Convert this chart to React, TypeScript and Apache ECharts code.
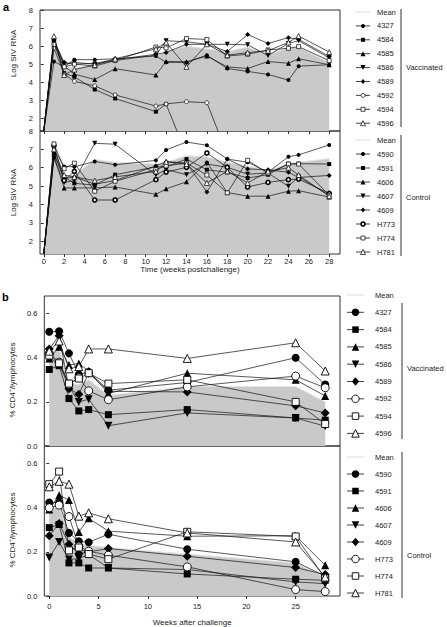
import React, { useEffect, useRef } from 'react';
import * as echarts from 'echarts';

// ---------- data ----------
const weeksA = [0, 1, 2, 3, 5, 7, 11, 12, 14, 16, 18, 20, 22, 24, 25, 28];
const weeksB = [0, 1, 2, 3, 4, 6, 14, 25, 28];
const ticksA = [0, 2, 4, 6, 8, 10, 12, 14, 16, 18, 20, 22, 24, 26, 28];
const ticksB = [0, 5, 10, 15, 20, 25];
const logTicks = [2, 3, 4, 5, 6, 7, 8];
const pctTicks = [0, 0.2, 0.4, 0.6];

const vacIds = ['4327', '4584', '4585', '4586', '4589', '4592', '4594', '4596'];
const conIds = ['4590', '4591', '4606', '4607', '4609', 'H773', 'H774', 'H781'];

// Panel a, vaccinated (log SIV RNA)
const meanVacA = [1.3, 6.2, 4.9, 4.8, 4.95, 5.2, 5.45, 5.7, 6.0, 5.85, 5.7, 5.95, 5.55, 5.9, 5.95, 5.1];
const a4327 = [1.3, 5.15, 4.85, 5.25, 5.25, 5.3, 5.45, 5.1, 5.1, 5.5, 4.76, 4.6, 4.43, 4.12, 4.89, 4.97];
const a4584 = [1.3, 6.3, 4.5, 4.3, 3.6, 3.1, 2.37, 2.79, 0, 0, 0, 0, 0, 0, 0, 0];
const a4585 = [1.3, 6.4, 4.9, 4.45, 4.15, 4.75, 4.4, 5.15, 5.13, 5.45, 4.85, 4.76, 5.15, 5.05, 5.3, 4.97];
const a4586 = [1.3, 6.25, 5.0, 5.1, 5.0, 5.2, 5.5, 6.3, 6.24, 6.1, 6.1, 6.07, 5.48, 6.15, 6.3, 5.35];
const a4589 = [1.3, 6.3, 5.1, 5.0, 5.05, 5.25, 5.55, 5.65, 6.1, 6.1, 5.7, 6.64, 6.15, 6.47, 6.37, 5.43];
const a4592 = [1.3, 5.9, 4.45, 4.05, 3.8, 3.3, 2.68, 2.8, 2.92, 2.87, 0, 0, 0, 0, 0, 0];
const a4594 = [1.3, 6.1, 4.85, 5.0, 4.9, 5.2, 5.95, 5.9, 6.42, 6.37, 5.45, 5.55, 5.79, 5.88, 5.97, 5.2];
const a4596 = [1.3, 6.55, 4.4, 4.7, 4.95, 5.3, 5.85, 6.2, 4.85, 6.1, 5.5, 5.64, 5.75, 6.2, 6.56, 5.67];

// Panel a, control (log SIV RNA)
const meanConA = [1.3, 7.0, 5.5, 5.6, 6.45, 6.3, 6.2, 6.3, 6.65, 6.6, 6.3, 6.1, 5.85, 6.2, 6.3, 6.5];
const a4590 = [1.3, 7.0, 6.07, 6.05, 6.34, 6.16, 6.4, 6.97, 7.4, 7.22, 6.47, 6.3, 5.75, 6.6, 6.7, 7.24];
const a4591 = [1.3, 6.8, 5.5, 5.15, 5.05, 5.62, 6.05, 6.05, 6.47, 5.89, 5.75, 5.44, 5.62, 6.22, 6.22, 6.2];
const a4606 = [1.3, 6.6, 4.9, 4.9, 4.9, 4.95, 4.55, 4.85, 5.23, 6.3, 4.65, 4.45, 4.45, 4.72, 4.75, 4.4];
const a4607 = [1.3, 6.5, 5.2, 5.3, 7.33, 7.28, 5.6, 5.9, 5.62, 6.2, 6.02, 5.65, 5.71, 4.99, 5.5, 4.5];
const a4609 = [1.3, 6.7, 5.4, 5.5, 5.1, 5.3, 6.1, 6.33, 6.25, 4.68, 6.47, 5.93, 5.89, 5.75, 5.47, 5.58];
const aH773 = [1.3, 7.2, 5.3, 5.8, 4.24, 4.24, 5.35, 5.76, 6.02, 6.8, 6.02, 4.95, 5.2, 5.35, 5.38, 4.6];
const aH774 = [1.3, 7.3, 5.95, 6.25, 4.72, 5.26, 5.9, 6.1, 6.25, 5.6, 4.63, 6.4, 5.7, 6.2, 6.2, 4.5];
const aH781 = [1.3, 7.0, 5.6, 5.5, 5.3, 5.5, 5.8, 6.33, 6.2, 5.17, 5.8, 5.17, 5.8, 6.0, 5.6, 4.45];

// Panel b, vaccinated (% CD4+/lymphocytes)
const meanVacB = [0.41, 0.44, 0.28, 0.28, 0.3, 0.23, 0.27, 0.27, 0.2];
const b4327 = [0.518, 0.52, 0.42, 0.324, 0.336, 0.253, 0.288, 0.4, 0.279];
const b4584 = [0.347, 0.364, 0.215, 0.159, 0.165, 0.142, 0.165, 0.127, 0.117];
const b4585 = [0.397, 0.45, 0.367, 0.374, 0.34, 0.238, 0.33, 0.3, 0.227];
const b4586 = [0.4, 0.37, 0.27, 0.2, 0.212, 0.092, 0.15, 0.127, 0.09];
const b4589 = [0.44, 0.5, 0.26, 0.235, 0.33, 0.248, 0.245, 0.182, 0.15];
const b4592 = [0.42, 0.38, 0.28, 0.31, 0.25, 0.21, 0.268, 0.317, 0.264];
const b4594 = [0.41, 0.375, 0.283, 0.306, 0.33, 0.283, 0.3, 0.2, 0.1];
const b4596 = [0.43, 0.476, 0.35, 0.36, 0.44, 0.44, 0.397, 0.468, 0.34];

// Panel b, control (% CD4+/lymphocytes)
const meanConB = [0.39, 0.41, 0.27, 0.235, 0.23, 0.22, 0.19, 0.15, 0.085];
const b4590 = [0.424, 0.424, 0.286, 0.248, 0.244, 0.28, 0.212, 0.155, 0.09];
const b4591 = [0.31, 0.324, 0.15, 0.15, 0.127, 0.127, 0.1, 0.076, 0.071];
const b4606 = [0.392, 0.457, 0.435, 0.29, 0.352, 0.294, 0.271, 0.273, 0.139];
const b4607 = [0.174, 0.245, 0.165, 0.17, 0.188, 0.127, 0.12, 0.064, 0.056];
const b4609 = [0.273, 0.329, 0.235, 0.192, 0.2, 0.215, 0.18, 0.129, 0.097];
const bH773 = [0.4, 0.412, 0.36, 0.226, 0.203, 0.185, 0.132, 0.029, 0.02];
const bH774 = [0.507, 0.564, 0.207, 0.22, 0.19, 0.167, 0.291, 0.27, 0.08];
const bH781 = [0.495, 0.52, 0.507, 0.362, 0.377, 0.35, 0.286, 0.245, 0.086];

const vacA = [a4327, a4584, a4585, a4586, a4589, a4592, a4594, a4596];
const conA = [a4590, a4591, a4606, a4607, a4609, aH773, aH774, aH781];
const vacB = [b4327, b4584, b4585, b4586, b4589, b4592, b4594, b4596];
const conB = [b4590, b4591, b4606, b4607, b4609, bH773, bH774, bH781];

// ---------- styling ----------
const KINDS = ['circle', 'rect', 'triangle', 'down', 'diamond', 'circle', 'rect', 'triangle'];
const FILLED = [true, true, true, true, true, false, false, false];
const FONT = '"Liberation Sans", Arial, Helvetica, sans-serif';
const INK = '#222';
const GRAY = '#c9c9c9';

function sizeFor(kind: string, big: boolean) {
  if (big) return kind === 'rect' ? 7 : kind === 'diamond' ? 9 : 8;
  return kind === 'rect' ? 4 : kind === 'circle' ? 4 : 5;
}

function animalSeries(name: string, weeks: number[], vals: number[], axis: number, idx: number, big: boolean, bold: boolean) {
  const kind = KINDS[idx];
  return {
    type: 'line',
    name,
    xAxisIndex: axis,
    yAxisIndex: axis,
    // in panel a the week-0 point is the undetectable baseline: drawn as line start only
    data: weeks.map((w, i) => (!big && w === 0 ? { value: [w, vals[i]], symbol: 'none' } : [w, vals[i]])),
    symbol: kind === 'down' ? 'triangle' : kind,
    symbolRotate: kind === 'down' ? 180 : 0,
    symbolSize: sizeFor(kind, big),
    showSymbol: true,
    showAllSymbol: true,
    clip: true,
    lineStyle: { color: '#111', width: 0.7 },
    itemStyle: {
      color: FILLED[idx] ? '#000' : '#fff',
      borderColor: '#000',
      borderWidth: FILLED[idx] ? 0 : bold ? 1.6 : big ? 0.9 : 0.7,
    },
    emphasis: { disabled: true },
    z: 3 + idx * 0.01,
  };
}

function meanSeries(weeks: number[], vals: number[], axis: number) {
  return {
    type: 'line',
    name: 'Mean',
    xAxisIndex: axis,
    yAxisIndex: axis,
    data: weeks.map((w, i) => [w, vals[i]]),
    symbol: 'none',
    lineStyle: { color: '#e4e4e4', width: 1 },
    areaStyle: { color: GRAY, opacity: 1, origin: 'start' },
    emphasis: { disabled: true },
    z: 1,
  };
}

function marker(kind: string, cx: number, cy: number, s: number, filled: boolean, lw: number) {
  const style = { fill: filled ? '#000' : '#fff', stroke: '#000', lineWidth: filled ? 0 : lw };
  const h = s / 2;
  if (kind === 'circle') return { type: 'circle', z: 10, shape: { cx, cy, r: h }, style };
  if (kind === 'rect') return { type: 'rect', z: 10, shape: { x: cx - h, y: cy - h, width: s, height: s }, style };
  let pts: number[][];
  if (kind === 'triangle') pts = [[cx, cy - h], [cx + h, cy + h], [cx - h, cy + h]];
  else if (kind === 'down') pts = [[cx, cy + h], [cx + h, cy - h], [cx - h, cy - h]];
  else pts = [[cx, cy - h], [cx + h * 0.85, cy], [cx, cy + h], [cx - h * 0.85, cy]];
  return { type: 'polygon', z: 10, shape: { points: pts }, style };
}

function txt(text: string, x: number, y: number, size: number, extra: any = {}) {
  return {
    type: 'text',
    x,
    y,
    z: 10,
    style: { text, fill: INK, fontSize: size, fontFamily: FONT, align: 'left', verticalAlign: 'middle', ...extra },
  };
}

function legendBlock(ids: string[], group: string, rows: number[], lx0: number, lx1: number, tx: number,
  barX: number, barY0: number, barY1: number, groupY: number, big: boolean, boldIdx: number) {
  const els: any[] = [];
  els.push({ type: 'line', z: 10, shape: { x1: lx0, y1: rows[0], x2: lx1, y2: rows[0] }, style: { stroke: '#dcdcdc', lineWidth: 1 } });
  els.push(txt('Mean', tx, rows[0], 7.5));
  ids.forEach((id, i) => {
    const y = rows[i + 1];
    const kind = KINDS[i];
    els.push({ type: 'line', z: 10, shape: { x1: lx0, y1: y, x2: lx1, y2: y }, style: { stroke: '#111', lineWidth: 0.8 } });
    const s = big ? sizeFor(kind, true) - 0.5 : sizeFor(kind, false);
    els.push(marker(kind, (lx0 + lx1) / 2, y, s, FILLED[i], i === boldIdx ? 1.6 : big ? 0.9 : 0.7));
    els.push(txt(id, tx, y, 7.5));
  });
  els.push({ type: 'line', z: 10, shape: { x1: barX, y1: barY0, x2: barX, y2: barY1 }, style: { stroke: '#333', lineWidth: 1 } });
  els.push(txt(group, barX + 5, groupY, 7.5));
  return els;
}

function rowsFrom(start: number, step: number) {
  return Array.from({ length: 9 }, (_, i) => start + i * step);
}

function xAxisDef(grid: number, min: number, max: number, ticks: number[], showTicks: boolean, showLabels: boolean, margin: number, name = '', nameGap = 0) {
  return {
    type: 'value',
    gridIndex: grid,
    min,
    max,
    axisLine: { show: false },
    splitLine: { show: false },
    axisTick: { show: showTicks, length: 3, inside: false, lineStyle: { color: '#333', width: 1 }, customValues: ticks },
    axisLabel: { show: showLabels, margin, fontSize: 7.5, color: INK, fontFamily: FONT, customValues: ticks },
    name,
    nameLocation: 'middle',
    nameGap,
    nameTextStyle: { fontSize: 8, color: INK, fontFamily: FONT },
  };
}

function yAxisDef(grid: number, min: number, max: number, ticks: number[], fmt: (v: number) => string, name: string, nameGap: number, padding: number[]) {
  return {
    type: 'value',
    gridIndex: grid,
    min,
    max,
    axisLine: { show: false },
    splitLine: { show: false },
    axisTick: { show: true, length: 3, inside: false, lineStyle: { color: '#333', width: 1 }, customValues: ticks },
    axisLabel: { show: true, margin: 7, fontSize: 7.5, color: INK, fontFamily: FONT, customValues: ticks, formatter: fmt },
    name,
    nameLocation: 'middle',
    nameGap,
    nameRotate: 90,
    nameTextStyle: { fontSize: 8, color: INK, fontFamily: FONT, padding },
  };
}

export default function App() {
  const ref = useRef<HTMLDivElement>(null);
  useEffect(() => {
    if (!ref.current) return;
    const chart = echarts.init(ref.current, null, { renderer: 'svg' });
    const gridBase = { show: true, borderColor: '#333', borderWidth: 1, backgroundColor: 'transparent', containLabel: false };
    const series: any[] = [];
    series.push(meanSeries(weeksA, meanVacA, 0));
    vacIds.forEach((id, i) => series.push(animalSeries(id, weeksA, vacA[i], 0, i, false, false)));
    series.push(meanSeries(weeksA, meanConA, 1));
    conIds.forEach((id, i) => series.push(animalSeries(id, weeksA, conA[i], 1, i, false, id === 'H773')));
    series.push(meanSeries(weeksB, meanVacB, 2));
    vacIds.forEach((id, i) => series.push(animalSeries(id, weeksB, vacB[i], 2, i, true, false)));
    series.push(meanSeries(weeksB, meanConB, 3));
    conIds.forEach((id, i) => series.push(animalSeries(id, weeksB, conB[i], 3, i, true, false)));

    const logFmt = (v: number) => String(Math.round(v));
    const pctFmt = (v: number) => v.toFixed(1);

    const graphic: any[] = [
      txt('a', 3, 7, 11, { fontWeight: 'bold', fill: '#000' }),
      txt('b', 2, 297, 11, { fontWeight: 'bold', fill: '#000' }),
      ...legendBlock(vacIds, 'Vaccinated', rowsFrom(12, 13.9), 356, 370, 377, 401, 9, 127, 67, false, -1),
      ...legendBlock(conIds, 'Control', rowsFrom(140, 14.0), 356, 370, 377, 401, 135, 256, 197, false, 5),
      ...legendBlock(vacIds, 'Vaccinated', rowsFrom(295, 17.3), 347, 364, 375, 402, 303, 439, 368, true, -1),
      ...legendBlock(conIds, 'Control', rowsFrom(457, 17.0), 347, 364, 375, 402, 452, 598, 555, true, -1),
    ];

    chart.setOption({
      animation: false,
      backgroundColor: '#fff',
      grid: [
        { ...gridBase, left: 40, top: 10, width: 300, height: 121 },
        { ...gridBase, left: 40, top: 131, width: 300, height: 123 },
        { ...gridBase, left: 40, top: 296, width: 300, height: 150 },
        { ...gridBase, left: 40, top: 446, width: 300, height: 150 },
      ],
      xAxis: [
        xAxisDef(0, -0.37, 29.06, ticksA, true, false, 3),
        xAxisDef(1, -0.37, 29.06, ticksA, true, true, 3, 'Time (weeks postchallenge)', 11),
        xAxisDef(2, -0.5, 29.5, ticksB, false, false, 3),
        xAxisDef(3, -0.5, 29.5, ticksB, true, true, 6, 'Weeks after challenge', 22),
      ],
      yAxis: [
        yAxisDef(0, 1.3, 8, logTicks, logFmt, 'Log SIV RNA', 22, [0, 0, 0, 34]),
        yAxisDef(1, 1.3, 8, logTicks, logFmt, 'Log SIV RNA', 22, [0, 0, 0, 0]),
        yAxisDef(2, 0, 0.68, pctTicks, pctFmt, '% CD4\u207A/lymphocytes', 28, [0, 18, 0, 0]),
        yAxisDef(3, 0, 0.68, pctTicks, pctFmt, '% CD4\u207A/lymphocytes', 28, [0, 18, 0, 0]),
      ],
      series,
      graphic,
    });
    return () => chart.dispose();
  }, []);
  return <div ref={ref} style={{ position: 'fixed', left: 0, top: 0, width: 447, height: 627, background: '#fff' }} />;
}
